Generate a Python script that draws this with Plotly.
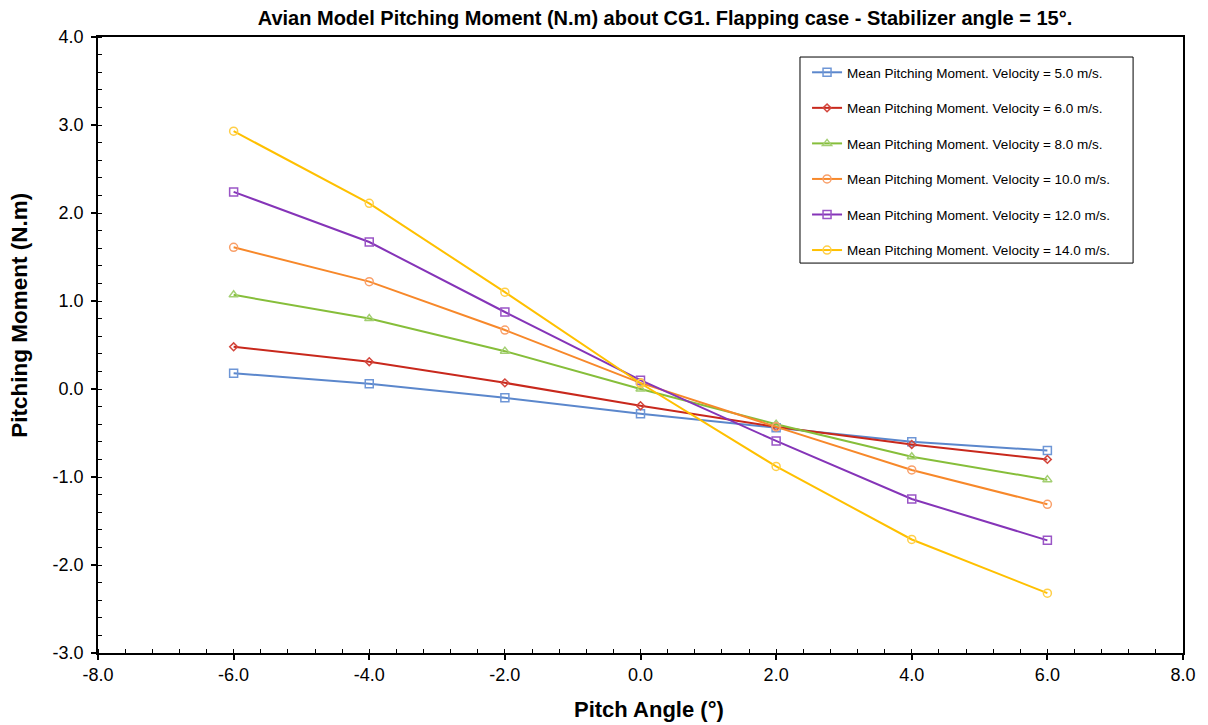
import plotly.graph_objects as go

pitch = [-6.0, -4.0, -2.0, 0.0, 2.0, 4.0, 6.0]
v5 = [0.18, 0.06, -0.10, -0.28, -0.44, -0.60, -0.70]
v6 = [0.48, 0.31, 0.07, -0.19, -0.43, -0.63, -0.80]
v8 = [1.07, 0.80, 0.43, 0.00, -0.40, -0.77, -1.03]
v10 = [1.61, 1.22, 0.67, 0.07, -0.43, -0.92, -1.31]
v12 = [2.24, 1.67, 0.875, 0.10, -0.59, -1.25, -1.72]
v14 = [2.93, 2.11, 1.10, 0.065, -0.88, -1.71, -2.32]

x_ticks = [-8, -6, -4, -2, 0, 2, 4, 6, 8]
x_ticklabels = ["-8.0", "-6.0", "-4.0", "-2.0", "0.0", "2.0", "4.0", "6.0", "8.0"]
y_ticks = [-3, -2, -1, 0, 1, 2, 3, 4]
y_ticklabels = ["-3.0", "-2.0", "-1.0", "0.0", "1.0", "2.0", "3.0", "4.0"]

names = [
    "Mean Pitching Moment. Velocity = 5.0 m/s.",
    "Mean Pitching Moment. Velocity = 6.0 m/s.",
    "Mean Pitching Moment. Velocity = 8.0 m/s.",
    "Mean Pitching Moment. Velocity = 10.0 m/s.",
    "Mean Pitching Moment. Velocity = 12.0 m/s.",
    "Mean Pitching Moment. Velocity = 14.0 m/s.",
]
series = [v5, v6, v8, v10, v12, v14]
colors = ["#5B87CC", "#C8281C", "#86BE3A", "#F7882A", "#8534B8", "#FFC000"]
mcolors = ["#6E96D6", "#D3463C", "#A3CF72", "#F9A06A", "#9A55C6", "#FFCF48"]
symbols = ["square-open", "diamond-open", "triangle-up-open", "circle-open", "square-open", "circle-open"]
msizes = [8, 6, 8, 8, 8, 8]

FONT = "Arial, Liberation Sans, sans-serif"

fig = go.Figure()
for i in range(6):
    fig.add_trace(go.Scatter(
        x=pitch, y=series[i], name=names[i], mode="lines+markers",
        legendgroup=f"g{i}",
        line=dict(color=colors[i], width=2),
        marker=dict(symbol=symbols[i], size=msizes[i], color=mcolors[i],
                    line=dict(color=mcolors[i], width=1.5)),
    ))

axis_common = dict(
    showline=True, linecolor="black", linewidth=1.5, mirror=True,
    showgrid=False, zeroline=False,
    ticks="outside", ticklen=5, tickcolor="black", tickwidth=1.5,
    tickfont=dict(family=FONT, size=18, color="black"),
)

fig.update_xaxes(
    range=[-8, 8], tickmode="array", tickvals=x_ticks, ticktext=x_ticklabels,
    minor=dict(dtick=0.4, ticks="inside", ticklen=4, tickcolor="black", tickwidth=1),
    **axis_common,
)
fig.update_yaxes(
    range=[-3, 4], tickmode="array", tickvals=y_ticks, ticktext=y_ticklabels,
    ticklabelstandoff=4,
    minor=dict(dtick=0.2, ticks="inside", ticklen=4, tickcolor="black", tickwidth=1),
    **axis_common,
)

fig.update_layout(
    width=1200, height=717,
    margin=dict(l=90, r=25, t=29, b=72),
    paper_bgcolor="white", plot_bgcolor="white",
    title=dict(text="<b>Avian Model Pitching Moment (N.m) about CG1. Flapping case - Stabilizer angle = 15°.</b>",
               x=0.5475, xanchor="center", y=0.986, yanchor="middle",
               font=dict(family=FONT, size=20, color="black")),
    legend=dict(x=0.6535, y=0.9675, xanchor="left", yanchor="top",
                borderwidth=0, bgcolor="rgba(0,0,0,0)",
                tracegroupgap=15,
                font=dict(family=FONT, size=13.5, color="black")),
    showlegend=True,
    shapes=[
        dict(type="rect", xref="paper", yref="paper", layer="below",
             x0=0.647, x1=0.954, y0=0.633, y1=0.9675,
             line=dict(color="black", width=1), fillcolor="white"),
    ],
    annotations=[
        dict(text="<b>Pitch Angle (°)</b>", xref="paper", yref="paper",
             x=0.508, y=-0.0925, xanchor="center", yanchor="middle", showarrow=False,
             font=dict(family=FONT, size=22, color="black")),
        dict(text="<b>Pitching Moment (N.m)</b>", xref="paper", yref="paper",
             x=-0.0719, y=0.549, xanchor="center", yanchor="middle", showarrow=False,
             textangle=-90, font=dict(family=FONT, size=22.5, color="black")),
    ],
)

fig.write_html("out.html")
